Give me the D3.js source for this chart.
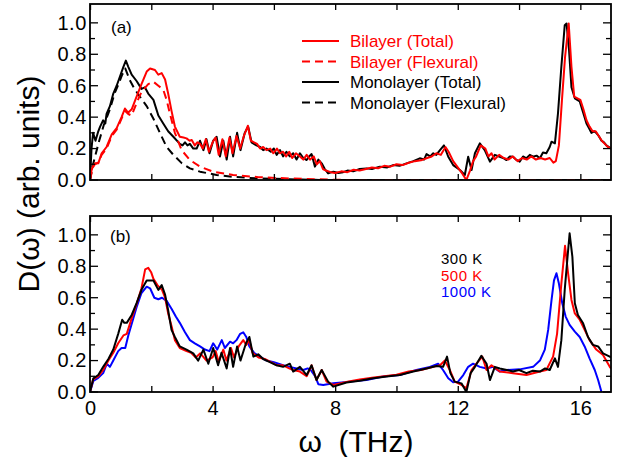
<!DOCTYPE html>
<html>
<head>
<meta charset="utf-8">
<script src="https://cdn.jsdelivr.net/npm/d3@7"></script>
<style>
  body { margin: 0; background: #fff; }
  svg text { font-family: "Liberation Sans", Arial, Helvetica, sans-serif; }
</style>
</head>
<body>
<div id="chart"></div>
<script>
// ---- data ----
// panel (a): phonon DOS, monolayer vs bilayer
const monoTotal = [[0,0],[0.05,0.2],[0.1,0.3],[0.18,0.25],[0.27,0.31],[0.33,0.34],[0.43,0.38],[0.5,0.36],[0.54,0.42],[0.65,0.47],[0.76,0.55],[0.87,0.6],[0.98,0.66],[1.09,0.72],[1.17,0.76],[1.25,0.72],[1.36,0.67],[1.52,0.63],[1.68,0.58],[1.79,0.59],[1.9,0.55],[2.07,0.51],[2.23,0.41],[2.39,0.36],[2.55,0.31],[2.72,0.275],[2.93,0.23],[3.02,0.22],[3.1,0.24],[3.18,0.22],[3.26,0.23],[3.37,0.2],[3.48,0.2],[3.59,0.25],[3.7,0.19],[3.8,0.26],[3.9,0.17],[4.02,0.25],[4.13,0.275],[4.24,0.15],[4.35,0.25],[4.46,0.13],[4.57,0.275],[4.67,0.15],[4.8,0.3],[4.91,0.19],[5.05,0.3],[5.16,0.34],[5.27,0.24],[5.43,0.22],[5.55,0.21],[5.65,0.19],[5.76,0.2],[5.9,0.18],[6.0,0.2],[6.09,0.16],[6.2,0.19],[6.3,0.15],[6.41,0.18],[6.52,0.15],[6.63,0.17],[6.74,0.13],[6.85,0.17],[6.96,0.14],[7.07,0.127],[7.15,0.15],[7.23,0.165],[7.34,0.085],[7.45,0.13],[7.56,0.106],[7.66,0.07],[7.77,0.042],[7.94,0.053],[8.1,0.045],[8.26,0.05],[8.4,0.06],[8.59,0.055],[8.8,0.07],[9.02,0.074],[9.2,0.07],[9.46,0.085],[9.7,0.08],[9.89,0.095],[10.1,0.09],[10.33,0.106],[10.55,0.12],[10.76,0.138],[10.9,0.13],[10.98,0.165],[11.1,0.15],[11.2,0.17],[11.3,0.16],[11.42,0.19],[11.55,0.22],[11.69,0.148],[11.85,0.095],[12.07,0.064],[12.23,0.032],[12.34,0.148],[12.45,0.064],[12.56,0.17],[12.72,0.233],[12.88,0.19],[13.05,0.117],[13.21,0.16],[13.37,0.148],[13.48,0.14],[13.59,0.127],[13.7,0.15],[13.8,0.148],[13.9,0.13],[14.02,0.117],[14.13,0.15],[14.24,0.138],[14.35,0.16],[14.46,0.148],[14.57,0.155],[14.68,0.138],[14.78,0.175],[14.89,0.17],[15.0,0.21],[15.06,0.244],[15.17,0.233],[15.27,0.424],[15.38,0.72],[15.49,0.985],[15.55,0.996],[15.63,0.83],[15.71,0.59],[15.82,0.52],[15.98,0.5],[16.09,0.43],[16.2,0.36],[16.28,0.33],[16.36,0.3],[16.45,0.31],[16.52,0.3],[16.6,0.28],[16.69,0.25],[16.77,0.24],[16.85,0.22],[17,0.2]];

const biTotal = [[0,0],[0.05,0.06],[0.09,0.085],[0.16,0.106],[0.27,0.106],[0.38,0.17],[0.54,0.21],[0.71,0.29],[0.87,0.33],[1.03,0.4],[1.14,0.455],[1.2,0.44],[1.25,0.43],[1.36,0.45],[1.52,0.53],[1.68,0.61],[1.85,0.69],[1.96,0.71],[2.12,0.7],[2.23,0.67],[2.34,0.68],[2.45,0.64],[2.55,0.55],[2.66,0.44],[2.77,0.34],[2.93,0.275],[3.05,0.27],[3.15,0.265],[3.25,0.25],[3.32,0.255],[3.42,0.22],[3.5,0.24],[3.59,0.23],[3.68,0.2],[3.78,0.26],[3.88,0.18],[4.0,0.24],[4.1,0.27],[4.2,0.16],[4.32,0.26],[4.43,0.15],[4.55,0.27],[4.65,0.17],[4.78,0.28],[4.9,0.2],[5.02,0.28],[5.15,0.345],[5.25,0.25],[5.35,0.24],[5.45,0.23],[5.55,0.2],[5.65,0.21],[5.76,0.19],[5.88,0.2],[5.98,0.17],[6.1,0.2],[6.2,0.17],[6.3,0.18],[6.4,0.15],[6.5,0.18],[6.6,0.14],[6.72,0.17],[6.85,0.15],[6.96,0.13],[7.07,0.16],[7.18,0.13],[7.3,0.15],[7.4,0.1],[7.5,0.12],[7.6,0.07],[7.7,0.06],[7.85,0.05],[8.0,0.045],[8.2,0.055],[8.4,0.05],[8.6,0.065],[8.8,0.06],[9.0,0.07],[9.2,0.08],[9.4,0.075],[9.6,0.09],[9.8,0.085],[10.0,0.1],[10.2,0.095],[10.4,0.11],[10.6,0.12],[10.8,0.125],[11.0,0.14],[11.15,0.15],[11.3,0.17],[11.45,0.16],[11.6,0.21],[11.7,0.18],[11.85,0.12],[12.0,0.08],[12.15,0.04],[12.28,0.0],[12.4,0.06],[12.5,0.12],[12.6,0.15],[12.75,0.22],[12.9,0.2],[13.0,0.15],[13.1,0.17],[13.2,0.13],[13.35,0.16],[13.5,0.14],[13.65,0.13],[13.8,0.15],[13.95,0.12],[14.1,0.14],[14.25,0.13],[14.4,0.15],[14.55,0.13],[14.7,0.14],[14.85,0.13],[15.0,0.14],[15.12,0.11],[15.2,0.12],[15.3,0.22],[15.4,0.51],[15.5,0.78],[15.62,0.996],[15.71,0.72],[15.8,0.53],[16.0,0.51],[16.1,0.45],[16.2,0.38],[16.3,0.34],[16.4,0.31],[16.5,0.31],[16.6,0.28],[16.7,0.25],[16.8,0.23],[16.9,0.21],[17,0.2]];

const biFlex = [[0,0],[0.09,0.08],[0.16,0.1],[0.27,0.11],[0.38,0.16],[0.54,0.2],[0.71,0.28],[0.87,0.32],[1.03,0.39],[1.14,0.44],[1.25,0.42],[1.36,0.41],[1.52,0.49],[1.68,0.56],[1.9,0.61],[2.07,0.625],[2.23,0.6],[2.39,0.575],[2.5,0.51],[2.61,0.42],[2.77,0.3],[2.99,0.19],[3.26,0.127],[3.59,0.085],[4.02,0.053],[4.67,0.032],[5.5,0.018],[6.5,0.01],[7.5,0.004],[8.5,0],[17,0]];

const monoFlex = [[0,0],[0.1,0.1],[0.3,0.25],[0.45,0.35],[0.65,0.45],[0.8,0.55],[0.95,0.62],[1.05,0.67],[1.15,0.71],[1.3,0.635],[1.45,0.58],[1.63,0.53],[1.85,0.47],[2.07,0.39],[2.28,0.3],[2.5,0.21],[2.72,0.16],[3.0,0.106],[3.26,0.074],[3.59,0.053],[4.13,0.032],[4.67,0.02],[5.5,0.01],[6.5,0.005],[7.5,0],[17,0]];

// panel (b): temperature dependence
const k300 = [[0,0],[0.11,0.087],[0.27,0.108],[0.43,0.16],[0.6,0.21],[0.76,0.27],[0.92,0.37],[1.05,0.46],[1.12,0.44],[1.2,0.44],[1.36,0.49],[1.52,0.565],[1.68,0.65],[1.85,0.71],[2.07,0.71],[2.23,0.65],[2.34,0.68],[2.45,0.62],[2.55,0.52],[2.66,0.395],[2.77,0.35],[2.93,0.29],[3.15,0.27],[3.37,0.246],[3.53,0.2],[3.7,0.27],[3.86,0.18],[4.02,0.28],[4.18,0.17],[4.29,0.25],[4.46,0.15],[4.57,0.28],[4.67,0.16],[4.8,0.29],[4.91,0.2],[5.09,0.31],[5.2,0.35],[5.33,0.225],[5.49,0.24],[5.65,0.21],[5.87,0.19],[6.09,0.17],[6.3,0.16],[6.52,0.18],[6.63,0.13],[6.85,0.16],[7.07,0.108],[7.23,0.17],[7.39,0.076],[7.56,0.14],[7.77,0.066],[7.94,0.034],[8.37,0.06],[8.8,0.072],[9.24,0.087],[9.68,0.098],[10.11,0.108],[10.55,0.13],[10.98,0.15],[11.3,0.165],[11.52,0.16],[11.65,0.225],[11.76,0.12],[11.9,0.066],[12.12,0.055],[12.28,0],[12.42,0.12],[12.56,0.16],[12.77,0.23],[12.94,0.18],[13.05,0.076],[13.21,0.16],[13.37,0.15],[13.6,0.14],[13.8,0.13],[14.0,0.14],[14.24,0.12],[14.45,0.135],[14.68,0.13],[14.85,0.15],[15.0,0.14],[15.17,0.214],[15.27,0.16],[15.38,0.33],[15.49,0.65],[15.6,0.9],[15.65,1.01],[15.74,0.86],[15.82,0.565],[15.92,0.49],[16.09,0.437],[16.25,0.35],[16.41,0.3],[16.58,0.29],[16.74,0.246],[16.96,0.225],[17,0.22]];

const k500 = [[0,0],[0.1,0.08],[0.27,0.1],[0.43,0.14],[0.6,0.2],[0.76,0.25],[0.92,0.31],[1.09,0.36],[1.2,0.37],[1.36,0.47],[1.52,0.56],[1.68,0.66],[1.8,0.78],[1.9,0.79],[2.0,0.76],[2.07,0.72],[2.2,0.68],[2.35,0.65],[2.45,0.6],[2.55,0.5],[2.66,0.42],[2.77,0.33],[2.93,0.28],[3.15,0.26],[3.3,0.25],[3.45,0.22],[3.6,0.246],[3.8,0.2],[4.0,0.22],[4.1,0.26],[4.2,0.19],[4.35,0.27],[4.45,0.2],[4.6,0.28],[4.7,0.22],[4.85,0.29],[5.0,0.33],[5.1,0.3],[5.2,0.33],[5.3,0.25],[5.5,0.22],[5.7,0.21],[5.9,0.19],[6.1,0.17],[6.3,0.17],[6.5,0.15],[6.63,0.14],[6.85,0.13],[7.07,0.1],[7.23,0.17],[7.39,0.076],[7.56,0.14],[7.72,0.066],[7.94,0.045],[8.4,0.065],[8.8,0.08],[9.2,0.09],[9.6,0.1],[10.0,0.11],[10.4,0.13],[10.8,0.14],[11.2,0.16],[11.42,0.17],[11.58,0.2],[11.74,0.14],[11.9,0.066],[12.12,0.045],[12.28,0.023],[12.45,0.14],[12.61,0.18],[12.8,0.225],[12.94,0.14],[13.1,0.17],[13.37,0.13],[13.8,0.12],[14.24,0.108],[14.68,0.13],[14.89,0.14],[15.11,0.225],[15.24,0.37],[15.38,0.69],[15.5,0.93],[15.6,0.755],[15.71,0.586],[15.82,0.5],[15.98,0.46],[16.14,0.395],[16.3,0.33],[16.52,0.27],[16.74,0.236],[16.96,0.16],[17,0.15]];

const k1000 = [[0,0],[0.11,0.07],[0.27,0.09],[0.43,0.12],[0.55,0.18],[0.65,0.16],[0.76,0.2],[0.92,0.26],[1.03,0.28],[1.15,0.28],[1.25,0.36],[1.4,0.46],[1.52,0.54],[1.68,0.63],[1.85,0.67],[1.96,0.66],[2.1,0.6],[2.23,0.59],[2.35,0.6],[2.5,0.58],[2.66,0.53],[2.8,0.48],[2.93,0.44],[3.1,0.38],[3.26,0.33],[3.42,0.31],[3.59,0.29],[3.75,0.27],[3.9,0.26],[4.02,0.31],[4.15,0.27],[4.3,0.33],[4.4,0.28],[4.57,0.32],[4.67,0.31],[4.78,0.33],[4.9,0.37],[5.0,0.38],[5.1,0.35],[5.2,0.29],[5.35,0.25],[5.5,0.23],[5.76,0.2],[6.0,0.19],[6.3,0.17],[6.52,0.16],[6.74,0.15],[6.96,0.14],[7.1,0.15],[7.2,0.14],[7.35,0.1],[7.45,0.05],[7.61,0.045],[7.94,0.055],[8.48,0.066],[9.02,0.076],[9.57,0.098],[10.11,0.108],[10.65,0.14],[11.09,0.16],[11.36,0.18],[11.52,0.14],[11.69,0.087],[11.85,0.062],[12.01,0.066],[12.18,0.108],[12.34,0.16],[12.5,0.18],[12.72,0.16],[12.94,0.15],[13.15,0.16],[13.37,0.13],[13.59,0.14],[14.02,0.144],[14.46,0.16],[14.68,0.2],[14.84,0.27],[14.95,0.395],[15.06,0.586],[15.14,0.71],[15.22,0.756],[15.3,0.69],[15.41,0.565],[15.52,0.48],[15.65,0.427],[15.82,0.384],[15.98,0.35],[16.14,0.29],[16.3,0.214],[16.47,0.14],[16.58,0.076],[16.69,0]];

const xTickLabels = [0, 4, 8, 12, 16];
const yTickLabels = [0, 0.2, 0.4, 0.6, 0.8, 1.0];

const legendA = [
  { name: "Bilayer (Total)", data: biTotal, color: "#ff0000", dash: null },
  { name: "Bilayer (Flexural)", data: biFlex, color: "#ff0000", dash: "8,5" },
  { name: "Monolayer (Total)", data: monoTotal, color: "#000000", dash: null },
  { name: "Monolayer (Flexural)", data: monoFlex, color: "#000000", dash: "8,5" }
];
const legendB = [
  { name: "300 K", data: k300, color: "#000000" },
  { name: "500 K", data: k500, color: "#ff0000" },
  { name: "1000 K", data: k1000, color: "#0000ff" }
];

// ---- layout ----
const W = 633, H = 457;
const left = 90, right = 611;

let svg = d3.select("#chart").append("svg")
  .attr("width", W)
  .attr("height", H);

let x = d3.scaleLinear().domain([0, 17]).range([left, right]);

function drawPanel(id, top, bottom, series, showXLabels) {
  let y = d3.scaleLinear().domain([0, 1.12]).range([bottom, top]);
  let g = svg.append("g").attr("id", id);

  g.append("clipPath").attr("id", "clip-" + id)
    .append("rect")
    .attr("x", left).attr("y", top)
    .attr("width", right - left).attr("height", bottom - top);

  let line = d3.line().x(d => x(d[0])).y(d => y(d[1]));

  // draw in reverse so the first legend entry ends up on top
  g.append("g").attr("clip-path", "url(#clip-" + id + ")")
    .selectAll("path")
    .data(series.slice().reverse())
    .join("path")
    .attr("d", d => line(d.data))
    .attr("fill", "none")
    .attr("stroke", d => d.color)
    .attr("stroke-width", 2)
    .attr("stroke-linejoin", "round")
    .attr("stroke-dasharray", d => d.dash);

  // ticks, all pointing inward
  let xt = d3.range(0, 17.01, 2);
  let yt = d3.range(0, 11).map(i => i / 10);

  let xAxisB = d3.axisBottom(x).tickValues(xt).tickSize(-6)
    .tickFormat(d => (showXLabels && xTickLabels.includes(d)) ? d : "");
  let ga = g.append("g").attr("transform", `translate(0,${bottom})`).call(xAxisB);
  ga.selectAll("text").attr("dy", "0.95em").attr("y", 4).style("font-size", "20px");
  g.append("g").attr("transform", `translate(0,${top})`)
    .call(d3.axisTop(x).tickValues(xt).tickSize(-6).tickFormat(""));

  let yAxisL = d3.axisLeft(y).tickValues(yt)
    .tickSize(0)
    .tickFormat(d => yTickLabels.some(v => Math.abs(v - d) < 1e-6) ? d.toFixed(1) : "");
  let gl = g.append("g").attr("transform", `translate(${left},0)`).call(yAxisL);
  gl.selectAll("text").attr("x", -3).style("font-size", "20px").style("letter-spacing", "0.6px");

  // y tick marks (longer on labelled ones), both sides
  yt.forEach(v => {
    let len = (Math.round(v * 10) % 2 === 0) ? 8 : 5;
    g.append("line").attr("x1", left).attr("x2", left + len)
      .attr("y1", y(v)).attr("y2", y(v)).attr("stroke", "#000").attr("stroke-width", 1.3);
    g.append("line").attr("x1", right).attr("x2", right - len)
      .attr("y1", y(v)).attr("y2", y(v)).attr("stroke", "#000").attr("stroke-width", 1.3);
  });

  g.selectAll(".domain").remove();
  g.selectAll(".tick line").attr("stroke-width", 1.3);

  g.append("rect")
    .attr("x", left).attr("y", top)
    .attr("width", right - left).attr("height", bottom - top)
    .attr("fill", "none").attr("stroke", "#000").attr("stroke-width", 1.8);

  return { g: g, y: y };
}

let pa = drawPanel("pa", 4, 180, legendA, false);
let pb = drawPanel("pb", 216, 392, legendB, true);

// panel tags
svg.append("text").attr("x", 111).attr("y", 33).style("font-size", "17px").text("(a)");
svg.append("text").attr("x", 110).attr("y", 242).style("font-size", "17px").text("(b)");

// legend (a)
legendA.forEach((s, i) => {
  let yy = 41 + i * 20.5;
  svg.append("line")
    .attr("x1", 302).attr("x2", 339).attr("y1", yy).attr("y2", yy)
    .attr("stroke", s.color).attr("stroke-width", 2)
    .attr("stroke-dasharray", s.dash);
  svg.append("text")
    .attr("x", 350).attr("y", yy + 6)
    .attr("fill", s.color)
    .style("font-size", "17px")
    .text(s.name);
});

// legend (b), text only
legendB.forEach((s, i) => {
  svg.append("text")
    .attr("x", 441).attr("y", 264 + i * 16.5)
    .attr("fill", s.color)
    .style("font-size", "15px")
    .style("letter-spacing", "0.5px")
    .text(s.name);
});

// axis titles
svg.append("text")
  .attr("transform", "translate(39,184) rotate(-90)")
  .attr("text-anchor", "middle")
  .style("font-size", "30px")
  .text("D(ω) (arb. units)");

svg.append("text")
  .attr("x", 356).attr("y", 452)
  .attr("text-anchor", "middle")
  .style("font-size", "30px")
  .style("white-space", "pre")
  .text("ω  (THz)");
</script>
</body>
</html>
